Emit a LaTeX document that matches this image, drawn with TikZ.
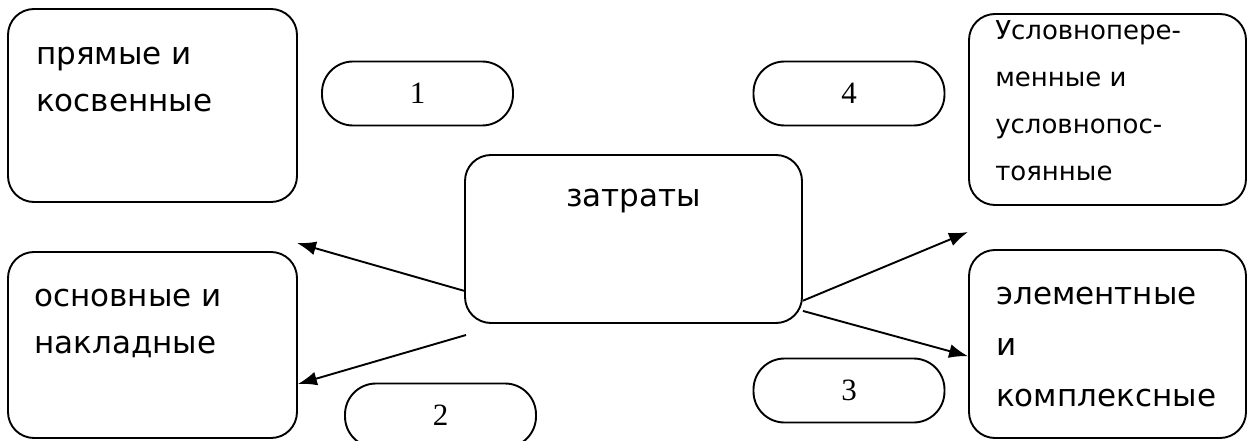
\documentclass[tikz,border=0pt]{standalone}
\usepackage{fontspec}
\setmainfont{DejaVu Sans}
\newfontfamily\numfont{Liberation Serif}
\usetikzlibrary{arrows.meta,positioning,calc}

\begin{document}
\begin{tikzpicture}[x=1pt,y=-1pt,>={Latex[length=19pt,width=14pt]},
    box/.style={draw,line width=1.9pt,rounded corners=26pt,inner sep=0pt},
    pill/.style={draw,line width=1.9pt,rounded corners=31pt,minimum width=191pt,minimum height=64pt,font=\numfont\fontsize{31}{31}\selectfont},
    txt/.style={inner sep=0pt,align=left,anchor=north west,font=\fontsize{31}{47}\selectfont},
    link/.style={->,line width=1.9pt}]
    \useasboundingbox (0,0) rectangle (1248,441);
    % boxes
    \node[box,minimum width=289pt,minimum height=193pt] (prk) at (152.5,105.5) {};
    \node[box,minimum width=289pt,minimum height=186pt] (osn) at (152.5,345) {};
    \node[box,minimum width=337pt,minimum height=168pt] (zat) at (633.5,239) {};
    \node[box,minimum width=277pt,minimum height=191pt] (usl) at (1107.5,109.5) {};
    \node[box,minimum width=277pt,minimum height=188pt] (elk) at (1107.5,344) {};
    % box texts
    \node[txt] (prk-t) at ($(prk.north west)+(29,39)$) {прямые и\\косвенные};
    \node[txt] (osn-t) at ($(osn.north west)+(27,38)$) {основные и\\накладные};
    \node[txt,anchor=north] (zat-t) at ($(zat.north)+(0,35)$) {затраты};
    \node[txt,font=\fontsize{26}{47}\selectfont] (usl-t) at ($(usl.north west)+(27,7)$) {Условнопере-\\менные и\\условнопос-\\тоянные};
    \node[txt,font=\fontsize{31}{51}\selectfont] (elk-t) at ($(elk.north west)+(28,38)$) {элементные\\и\\комплексные};
    % numbered pills
    \foreach \n/\x/\y in {1/417.5/93.5, 2/440.5/415.5, 3/849/390.5, 4/849/93.5}
      \node[pill] (p\n) at (\x,\y) {\n};
    % free arrow ends
    \coordinate (t1) at (297,243);
    \coordinate (s2) at (466,335);
    \coordinate (t3) at (968,232);
    % arrows
    \draw[link] (zat.197) -- (t1);
    \draw[link] (s2) -- (osn.-15);
    \draw[link] (zat.-20) -- (t3);
    \draw[link] (zat.-23) -- (elk.185);
\end{tikzpicture}
\end{document}
